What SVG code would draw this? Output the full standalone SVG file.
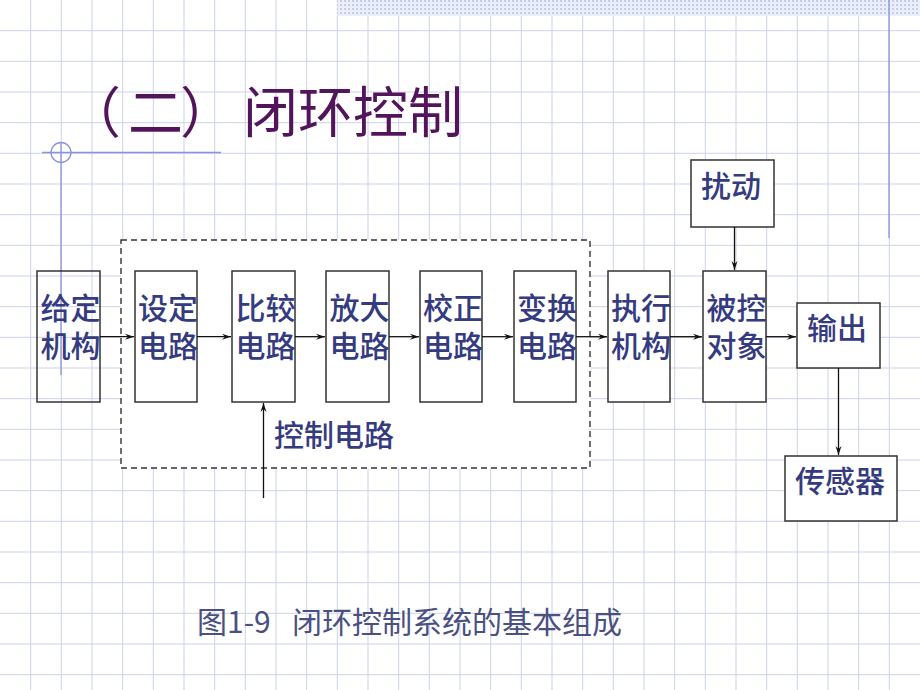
<svg xmlns="http://www.w3.org/2000/svg" width="920" height="690" viewBox="0 0 920 690">
<defs>
<pattern id="dots" width="4" height="4" patternUnits="userSpaceOnUse">
<rect width="4" height="4" fill="#eef1fa"/>
<rect x="0" y="0" width="2" height="2" fill="#c3cced"/>
<rect x="2" y="2" width="1" height="1" fill="#d3daf2"/>
</pattern>
<marker id="ah" markerUnits="userSpaceOnUse" markerWidth="10" markerHeight="8" refX="9" refY="4" orient="auto">
<path d="M0,1 L9,4 L0,7 L3,4 z" fill="#111"/>
</marker>
</defs>
<style>
.grid{stroke:#cdd2ea;stroke-width:1;fill:none}
.deco{stroke:#8a94d8;stroke-width:1.3;fill:none}
.box{fill:#fff;stroke:#333;stroke-width:1.5}
.clear{fill:none;stroke:#333;stroke-width:1.5}
.lbl{font-family:"Noto Sans CJK SC","Noto Sans",sans-serif;font-size:30px;font-weight:500;fill:#353b80;text-anchor:middle}
.conn{stroke:#111;stroke-width:1.3;fill:none;marker-end:url(#ah)}
.title{font-family:"Noto Sans CJK SC","Noto Sans",sans-serif;font-size:55px;fill:#52145a}
.cap{font-family:"Noto Sans CJK SC","Liberation Sans",sans-serif;font-size:30px;fill:#4a5082}
</style>
<rect width="920" height="690" fill="#fff"/>
<path class="grid" d="M30.7,0V690M61.3,0V690M92,0V690M122.7,0V690M153.3,0V690M184,0V690M214.7,0V690M245.3,0V690M276,0V690M306.7,0V690M337.3,0V690M368,0V690M398.7,0V690M429.3,0V690M460,0V690M490.7,0V690M521.3,0V690M552,0V690M582.7,0V690M613.3,0V690M644,0V690M674.7,0V690M705.3,0V690M736,0V690M766.7,0V690M797.3,0V690M828,0V690M858.7,0V690M889.3,0V690M0,30.7H920M0,61.3H920M0,92H920M0,122.7H920M0,153.3H920M0,184H920M0,214.7H920M0,245.3H920M0,276H920M0,306.7H920M0,337.3H920M0,368H920M0,398.7H920M0,429.3H920M0,460H920M0,490.7H920M0,521.3H920M0,552H920M0,582.7H920M0,613.3H920M0,644H920M0,674.7H920"/>
<rect x="337" y="0" width="583" height="16" fill="url(#dots)"/>
<path class="deco" d="M889,0V238M42,152.5H221M61,143V375"/>
<circle class="deco" cx="61" cy="152.5" r="10"/>
<text class="title" x="66 128 180 243 298 353 408" y="132">（二）闭环控制</text>
<rect x="121" y="240" width="469" height="228" fill="#fff" stroke="#333" stroke-width="1.4" stroke-dasharray="6,4"/>
<g id="n1"><rect class="clear" x="37" y="271" width="63" height="131"/><text class="lbl" x="70.5" y="319">给定</text><text class="lbl" x="70.5" y="357">机构</text></g>
<g id="n2"><rect class="box" x="135" y="271" width="62" height="131"/><text class="lbl" x="168" y="319">设定</text><text class="lbl" x="168" y="357">电路</text></g>
<g id="n3"><rect class="box" x="232" y="271" width="63" height="131"/><text class="lbl" x="265.5" y="319">比较</text><text class="lbl" x="265.5" y="357">电路</text></g>
<g id="n4"><rect class="box" x="326" y="271" width="63" height="131"/><text class="lbl" x="359.5" y="319">放大</text><text class="lbl" x="359.5" y="357">电路</text></g>
<g id="n5"><rect class="box" x="420" y="271" width="62" height="131"/><text class="lbl" x="453" y="319">校正</text><text class="lbl" x="453" y="357">电路</text></g>
<g id="n6"><rect class="box" x="514" y="271" width="62" height="131"/><text class="lbl" x="547" y="319">变换</text><text class="lbl" x="547" y="357">电路</text></g>
<g id="n7"><rect class="box" x="608" y="271" width="62" height="131"/><text class="lbl" x="641" y="319">执行</text><text class="lbl" x="641" y="357">机构</text></g>
<g id="n8"><rect class="box" x="703" y="271" width="63" height="131"/><text class="lbl" x="736.5" y="319">被控</text><text class="lbl" x="736.5" y="357">对象</text></g>
<g id="n9"><rect class="box" x="797" y="303" width="83" height="65"/><text class="lbl" x="837" y="339">输出</text></g>
<g id="n10"><rect class="box" x="785" y="456" width="112" height="65"/><text class="lbl" x="840" y="492">传感器</text></g>
<g id="n11"><rect class="box" x="691" y="160" width="83" height="67"/><text class="lbl" x="731" y="197">扰动</text></g>
<g id="lbl-ctrl"><text class="lbl" x="334" y="446">控制电路</text></g>
<g id="connectors">
<path class="conn" d="M100,336.7H134"/>
<path class="conn" d="M197,336.7H231"/>
<path class="conn" d="M295,336.7H325"/>
<path class="conn" d="M389,336.7H419"/>
<path class="conn" d="M482,336.7H513"/>
<path class="conn" d="M576,336.7H607"/>
<path class="conn" d="M670,336.7H702"/>
<path class="conn" d="M766,336.7H796"/>
<path class="conn" d="M263.5,498V403"/>
<path class="conn" d="M734.5,227V270"/>
<path class="conn" d="M838.5,368V455"/>
</g>
<text class="cap" x="197" y="633" xml:space="preserve">图1-9  <tspan x="292">闭环控制系统的基本组成</tspan></text>
</svg>
